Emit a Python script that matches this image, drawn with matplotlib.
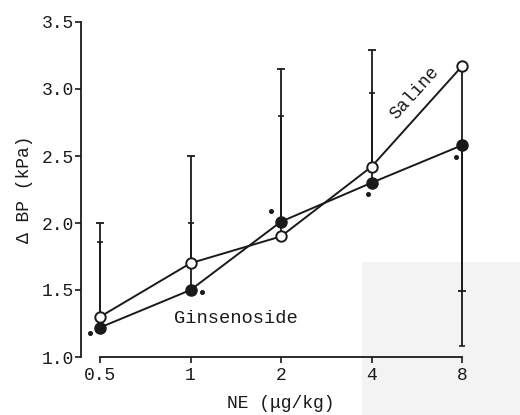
import matplotlib
matplotlib.use('Agg')
import matplotlib.pyplot as plt
import matplotlib.transforms as mtransforms
from matplotlib.patches import Rectangle
import numpy as np

# NE dose (ug/kg) and mean rise in BP (kPa)
dose = [0.5, 1, 2, 4, 8]
dose_labels = ['0.5', '1', '2', '4', '8']
saline = [1.30, 1.70, 1.90, 2.42, 3.17]
ginseno = [1.22, 1.50, 2.01, 2.30, 2.58]
# one-sided SD: bars go up except at 8 ug/kg where they go down
saline_sd_up = [0.70, 0.80, 1.25, 0.87, 0.0]
saline_sd_dn = [0.0, 0.0, 0.0, 0.0, 1.68]
ginseno_sd_up = [0.64, 0.50, 0.79, 0.67, 0.0]
ginseno_sd_dn = [0.0, 0.0, 0.0, 0.0, 1.50]
# star (significance) offsets in pixels from the ginsenoside points
star_dx = [-10, 11, -10, -4, -6]
star_dy = [-5, -2, 11, -11, -12]

plt.rcParams['font.family'] = ['Liberation Mono', 'DejaVu Sans Mono']
ink = '#1a1a1a'

fig = plt.figure(figsize=(5.2, 4.15), dpi=100)
# faint show-through patch of the scanned page
fig.patches.append(Rectangle((362/520, 0), 158/520, 153/415, transform=fig.transFigure,
                             facecolor='#f3f3f3', edgecolor='none', zorder=0))
ax = fig.add_axes([81/520, 1-357/415, 399/520, 335/415])
ax.set_zorder(2)
ax.patch.set_alpha(0)

ax.errorbar(dose, saline, yerr=[saline_sd_dn, saline_sd_up], fmt='none',
            ecolor=ink, elinewidth=1.3, capsize=3, capthick=1.3, zorder=2)
ax.errorbar(dose, ginseno, yerr=[ginseno_sd_dn, ginseno_sd_up], fmt='none',
            ecolor=ink, elinewidth=1.3, capsize=2, capthick=1.2, zorder=2)

ax.plot(dose, saline, '-o', color=ink, lw=1.4, ms=7.5, mfc='white', mec=ink,
        mew=1.4, zorder=4)
ax.plot(dose, ginseno, '-o', color=ink, lw=1.4, ms=8, mfc=ink, mec=ink, zorder=4)

for x, y, dx, dy in zip(dose, ginseno, star_dx, star_dy):
    tr = mtransforms.offset_copy(ax.transData, fig=fig, x=dx, y=dy, units='dots')
    ax.plot([x], [y], marker='o', ms=2.6, color=ink, transform=tr, clip_on=False)

ax.text(5.58, 2.97, 'Saline', rotation=48, ha='center', va='center',
        fontsize=13, color=ink)
ax.text(1.42, 1.29, 'Ginsenoside', ha='center', va='center', fontsize=13.5,
        color=ink)

ax.set_xscale('log', base=2)
ax.set_xlim(0.5 * 2 ** (-0.21), 8 * 2 ** (18 / 90.5))
ax.set_ylim(1.0, 3.5)
ax.set_xticks(dose)
ax.set_xticklabels(dose_labels)
ax.minorticks_off()
ax.set_yticks(np.arange(1.0, 3.51, 0.5))
ax.set_yticklabels(['%.1f' % v for v in np.arange(1.0, 3.51, 0.5)])

for s in ['top', 'right']:
    ax.spines[s].set_visible(False)
ax.spines['bottom'].set_bounds(0.5, 8)
for s in ['left', 'bottom']:
    ax.spines[s].set_linewidth(1.3)
    ax.spines[s].set_color(ink)
ax.tick_params(axis='both', direction='out', length=4, width=1.2, color=ink,
               labelsize=13, labelcolor=ink, pad=1)
ax.tick_params(axis='x', pad=3)

ax.set_xlabel('NE (\u03bcg/kg)', fontsize=13, color=ink, labelpad=8)
ax.set_ylabel('\u0394 BP (kPa)', fontsize=13, color=ink, labelpad=6)

fig.savefig('out.png', dpi=100)
